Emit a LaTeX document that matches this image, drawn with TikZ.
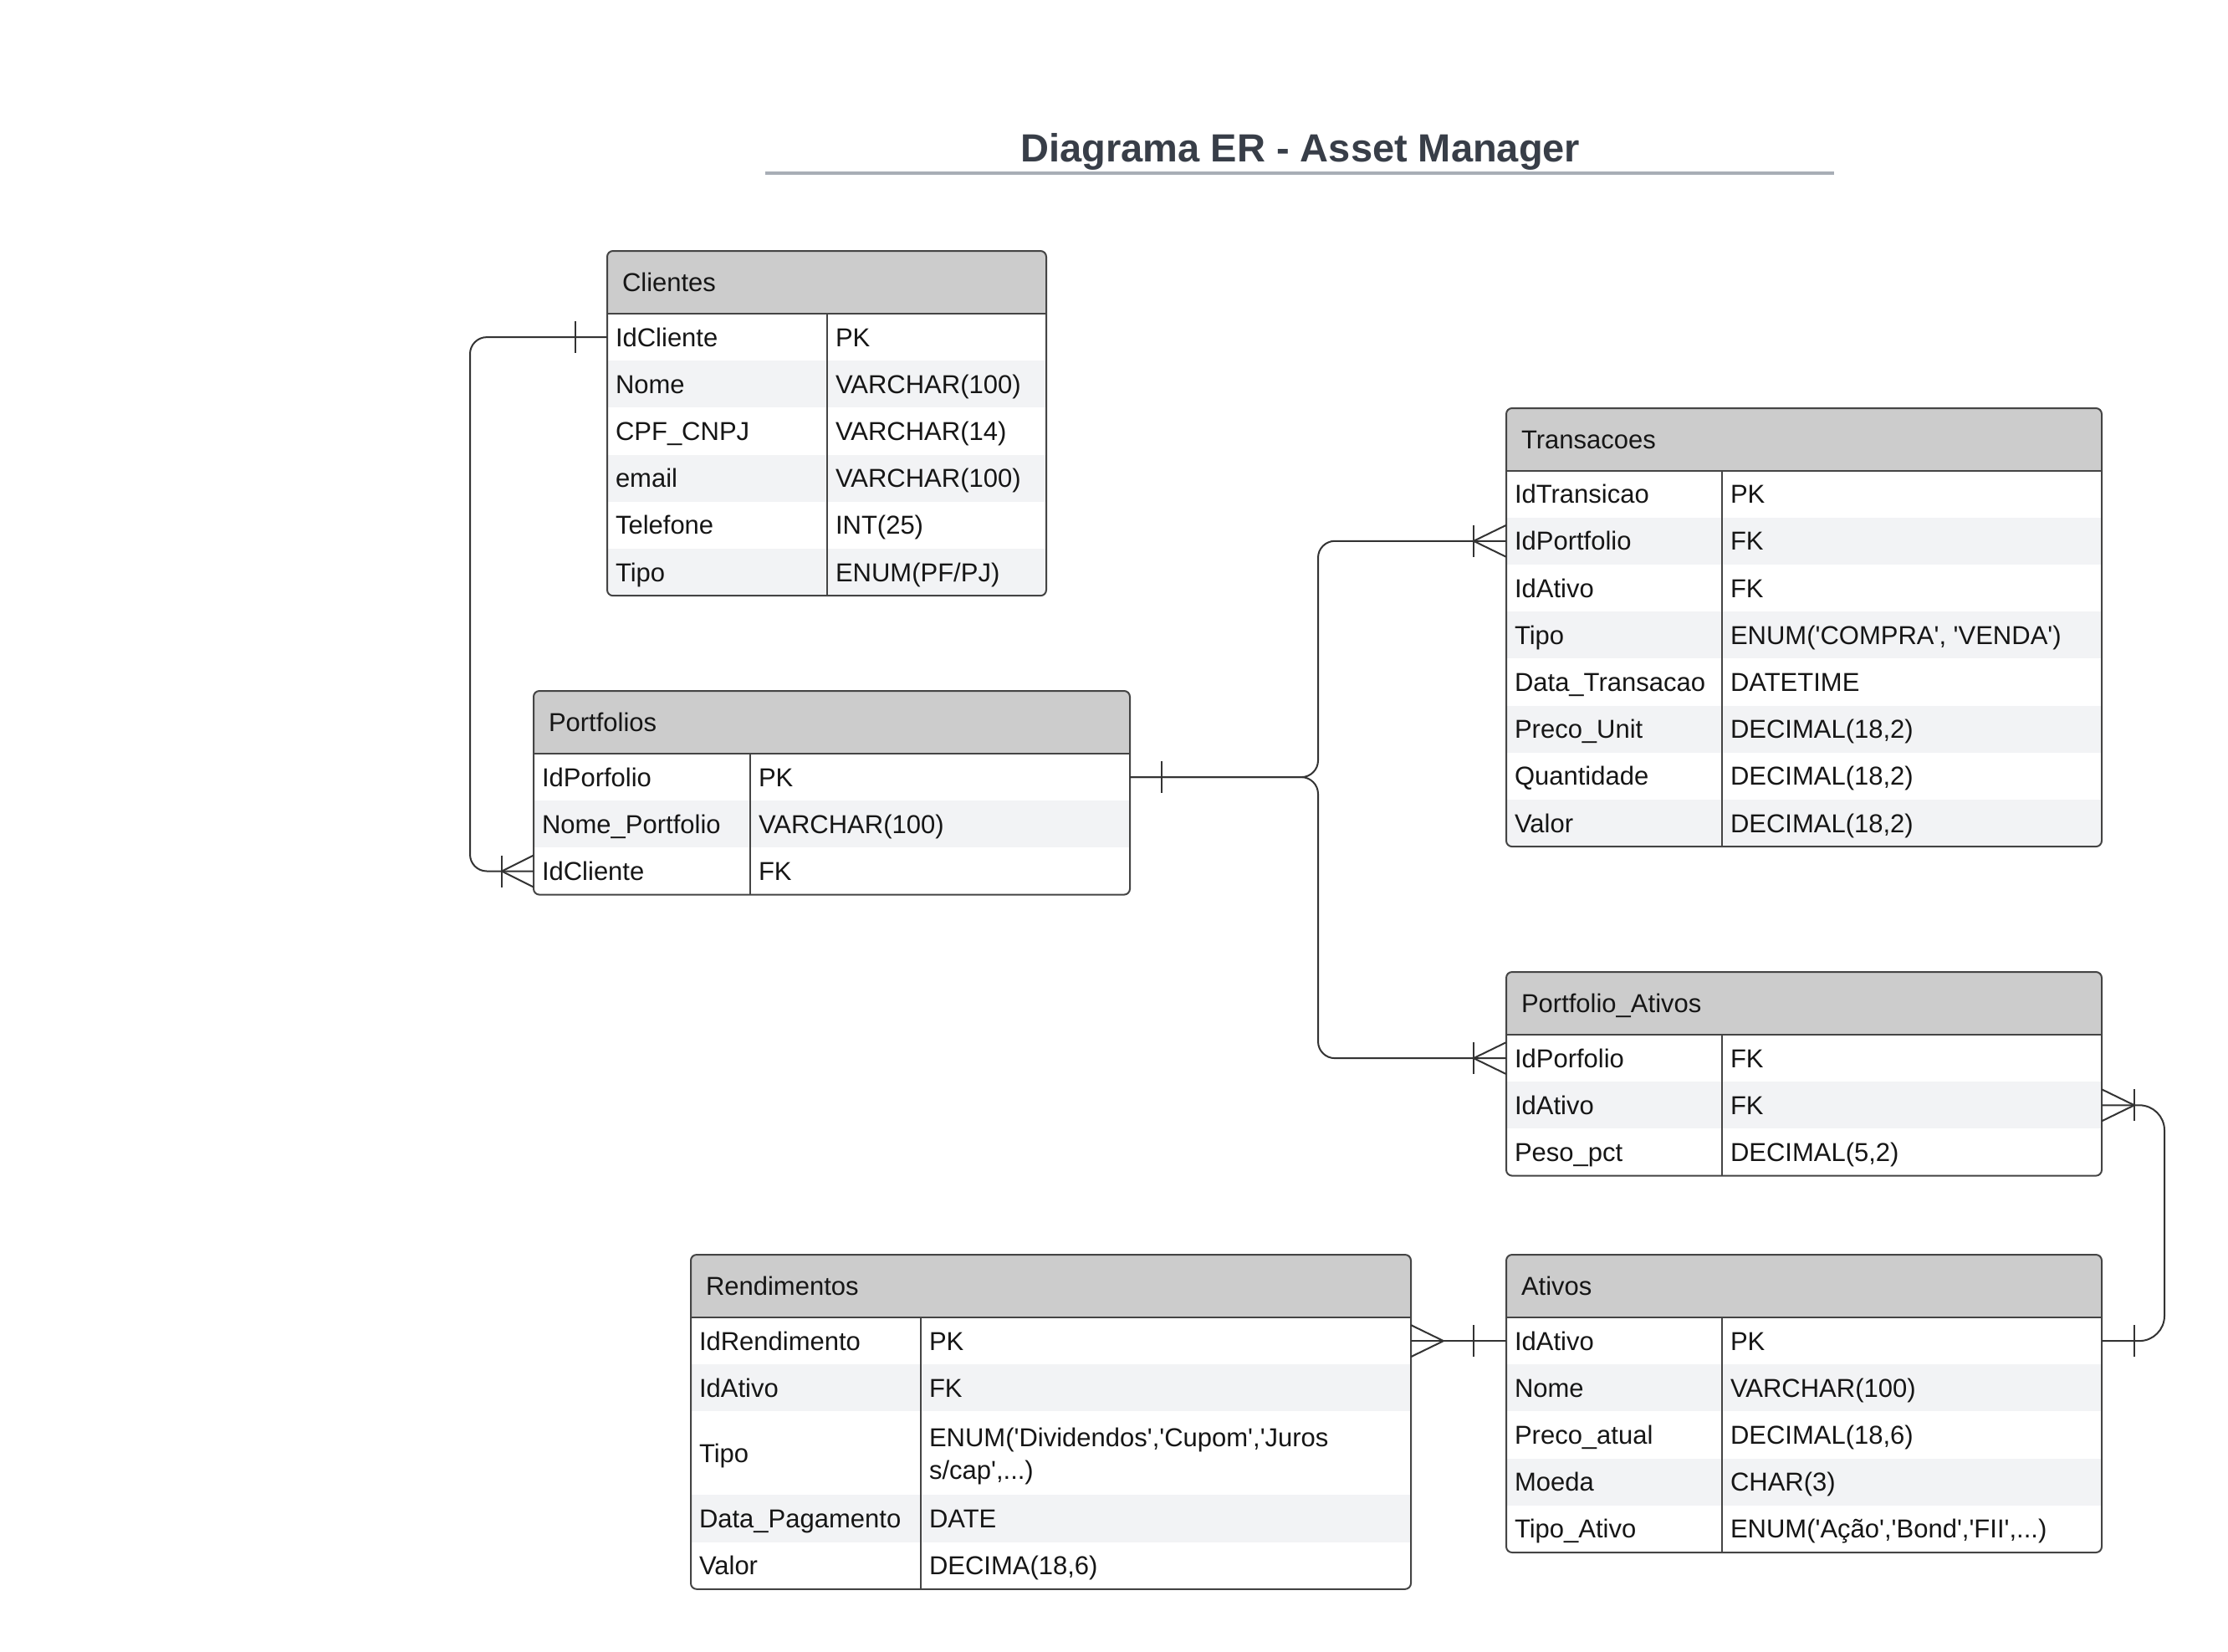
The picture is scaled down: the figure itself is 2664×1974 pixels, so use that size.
\documentclass[tikz,border=0pt]{standalone}
\usepackage{fontspec}
\newfontfamily\erfont{Liberation Sans}
\usetikzlibrary{calc}
\definecolor{hdrfill}{HTML}{CCCCCC}
\definecolor{altfill}{HTML}{F2F3F5}
\definecolor{bordercol}{HTML}{444444}
\definecolor{conncol}{HTML}{333333}
\definecolor{txtcol}{HTML}{161616}
\definecolor{titlecol}{HTML}{383E48}
\definecolor{rulecol}{HTML}{A8AEB6}
\tikzset{
  cell/.style={draw=none, inner sep=0pt, outer sep=0pt, rectangle},
  txt/.style={inner sep=0pt, outer sep=0pt, text=txtcol, font=\erfont\fontsize{31}{39}\selectfont},
  border/.style={draw=bordercol, line width=2pt},
  conn/.style={draw=conncol, line width=2pt},
  titletxt/.style={inner sep=0pt, text=titlecol, font=\erfont\bfseries\fontsize{47}{56}\selectfont},
}
% row: #1 name, #2 top, #3 height, #4 key, #5 value, #6 fill
\newcommand\erow[6]{%
  \fill[#6] (\tL,#2) rectangle (\tR,{#2+#3});
  \node[cell, minimum width={\tD-\tL}, minimum height=#3, anchor=north west] (#1k) at (\tL,#2) {};
  \node[cell, minimum width={\tR-\tD}, minimum height=#3, anchor=north west] (#1v) at (\tD,#2) {};
  \node[txt, anchor=base west] (#1kt) at ([xshift=10pt,yshift=-11pt]#1k.west) {#4};
  \node[txt, anchor=base west] (#1vt) at ([xshift=10pt,yshift=-11pt]#1v.west) {#5};
}
% two-line value row
\newcommand\erowtwo[6]{%
  \fill[#6] (\tL,#2) rectangle (\tR,{#2+#3});
  \node[cell, minimum width={\tD-\tL}, minimum height=#3, anchor=north west] (#1k) at (\tL,#2) {};
  \node[cell, minimum width={\tR-\tD}, minimum height=#3, anchor=north west] (#1v) at (\tD,#2) {};
  \node[txt, anchor=base west] (#1kt) at ([xshift=10pt,yshift=-11pt]#1k.west) {#4};
  \node[txt, anchor=west, align=left] (#1vt) at ([xshift=10pt,yshift=-4pt]#1v.west) {#5};
}
% table: #1 name #2 L #3 T #4 R #5 D #6 HB #7 B #8 title #9 rows
\newcommand\ertable[9]{%
  \def\tL{#2}\def\tR{#4}\def\tD{#5}%
  \begin{scope}
    \clip[rounded corners=7pt] (#2,#3) rectangle (#4,#7);
    \fill[hdrfill] (#2,#3) rectangle (#4,#6);
    #9
  \end{scope}
  \node[txt, anchor=base west] (#1) at ({#2+18},{(#3+#6)/2+11}) {#8};
  \draw[border] (#2,#6) -- (#4,#6) (#5,#6) -- (#5,#7);
  \draw[border, rounded corners=7pt] (#2,#3) rectangle (#4,#7);
}
\newcommand\erbar[2]{\draw[conn] ($(#1)+(#2,-19)$) -- ($(#1)+(#2,19)$);}
\newcommand\ercrow[2]{\draw[conn] ($(#1)+(0,-19)$) -- ($(#1)+(#2,0)$) -- ($(#1)+(0,19)$);}

\begin{document}
\begin{tikzpicture}[x=1pt,y=-1pt]
\useasboundingbox[fill=white] (0,0) rectangle (2664,1974);

% title
\node[titletxt, anchor=base] (title) at (1555,193) {Diagrama ER - Asset Manager};
\coordinate (ruleL) at (915,207);
\coordinate (ruleR) at (2193,207);
\draw[draw=rulecol, line width=4pt] (ruleL) -- (ruleR);

% Clientes
\ertable{clientes}{726}{300}{1251}{989}{375}{712.2}{Clientes}{%
  \erow{cli1}{375}{56.2}{IdCliente}{PK}{white}
  \erow{cli2}{431.2}{56.2}{Nome}{VARCHAR(100)}{altfill}
  \erow{cli3}{487.4}{56.2}{CPF\_CNPJ}{VARCHAR(14)}{white}
  \erow{cli4}{543.6}{56.2}{email}{VARCHAR(100)}{altfill}
  \erow{cli5}{599.8}{56.2}{Telefone}{INT(25)}{white}
  \erow{cli6}{656}{56.2}{Tipo}{ENUM(PF/PJ)}{altfill}
}

% Portfolios
\ertable{portfolios}{638}{826}{1351}{897}{901}{1069.6}{Portfolios}{%
  \erow{por1}{901}{56.2}{IdPorfolio}{PK}{white}
  \erow{por2}{957.2}{56.2}{Nome\_Portfolio}{VARCHAR(100)}{altfill}
  \erow{por3}{1013.4}{56.2}{IdCliente}{FK}{white}
}

% Transacoes
\ertable{transacoes}{1801}{488}{2513}{2059}{562.5}{1012.1}{Transacoes}{%
  \erow{tra1}{562.5}{56.2}{IdTransicao}{PK}{white}
  \erow{tra2}{618.7}{56.2}{IdPortfolio}{FK}{altfill}
  \erow{tra3}{674.9}{56.2}{IdAtivo}{FK}{white}
  \erow{tra4}{731.1}{56.2}{Tipo}{ENUM('COMPRA', 'VENDA')}{altfill}
  \erow{tra5}{787.3}{56.2}{Data\_Transacao}{DATETIME}{white}
  \erow{tra6}{843.5}{56.2}{Preco\_Unit}{DECIMAL(18,2)}{altfill}
  \erow{tra7}{899.7}{56.2}{Quantidade}{DECIMAL(18,2)}{white}
  \erow{tra8}{955.9}{56.2}{Valor}{DECIMAL(18,2)}{altfill}
}

% Portfolio_Ativos
\ertable{portativos}{1801}{1162}{2513}{2059}{1237}{1405.6}{Portfolio\_Ativos}{%
  \erow{pa1}{1237}{56.2}{IdPorfolio}{FK}{white}
  \erow{pa2}{1293.2}{56.2}{IdAtivo}{FK}{altfill}
  \erow{pa3}{1349.4}{56.2}{Peso\_pct}{DECIMAL(5,2)}{white}
}

% Ativos
\ertable{ativos}{1801}{1500}{2513}{2059}{1575}{1856}{Ativos}{%
  \erow{ati1}{1575}{56.2}{IdAtivo}{PK}{white}
  \erow{ati2}{1631.2}{56.2}{Nome}{VARCHAR(100)}{altfill}
  \erow{ati3}{1687.4}{56.2}{Preco\_atual}{DECIMAL(18,6)}{white}
  \erow{ati4}{1743.6}{56.2}{Moeda}{CHAR(3)}{altfill}
  \erow{ati5}{1799.8}{56.2}{Tipo\_Ativo}{ENUM('Ação','Bond','FII',...)}{white}
}

% Rendimentos
\ertable{rendimentos}{826}{1500}{1687}{1101}{1575}{1899.8}{Rendimentos}{%
  \erow{ren1}{1575}{56.2}{IdRendimento}{PK}{white}
  \erow{ren2}{1631.2}{56.2}{IdAtivo}{FK}{altfill}
  \erowtwo{ren3}{1687.4}{100}{Tipo}{ENUM('Dividendos','Cupom','Juros\\s/cap',...)}{white}
  \erow{ren4}{1787.4}{56.2}{Data\_Pagamento}{DATE}{altfill}
  \erow{ren5}{1843.6}{56.2}{Valor}{DECIMA(18,6)}{white}
}

% connectors
\draw[conn, rounded corners=20pt] (cli1k.west) -- ++(-164,0) |- (por3k.west);
\draw[conn, rounded corners=20pt] (por1v.east) -- ++(225,0) |- (tra2k.west);
\draw[conn, rounded corners=20pt] (por1v.east) -- ++(225,0) |- (pa1k.west);
\draw[conn, rounded corners=30pt] (pa2v.east) -- ++(75,0) |- (ati1v.east);
\draw[conn] (ren1v.east) -- (ati1k.west);

% markers
\erbar{cli1k.west}{-38}
\ercrow{por3k.west}{-38}
\erbar{por3k.west}{-38}
\erbar{por1v.east}{38}
\ercrow{tra2k.west}{-39}
\erbar{tra2k.west}{-39}
\ercrow{pa1k.west}{-39}
\erbar{pa1k.west}{-39}
\ercrow{pa2v.east}{39}
\erbar{pa2v.east}{39}
\erbar{ati1v.east}{39}
\ercrow{ren1v.east}{39}
\erbar{ati1k.west}{-39}
\end{tikzpicture}
\end{document}
